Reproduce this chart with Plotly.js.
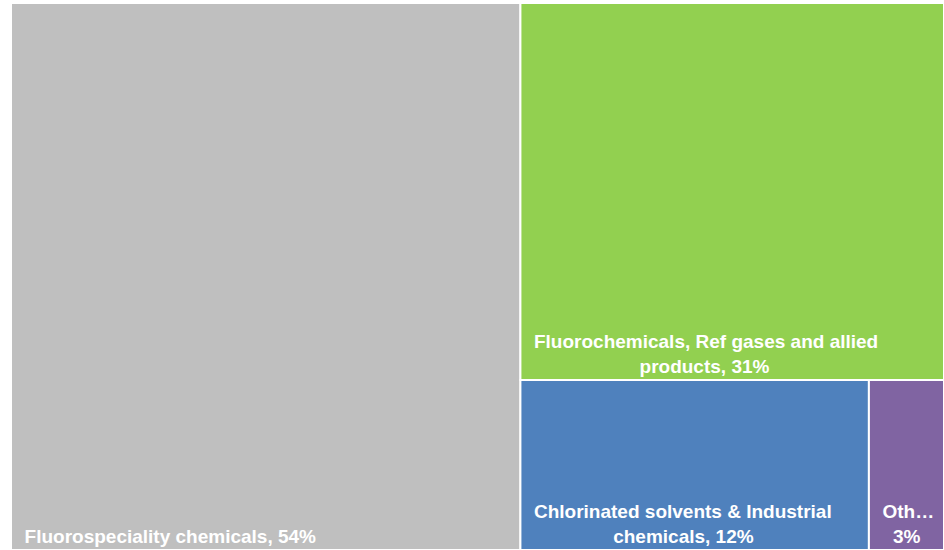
<!DOCTYPE html>
<html>
<head>
<meta charset="utf-8">
<script src="https://cdn.plot.ly/plotly-3.0.1.min.js"></script>
<style>html,body{margin:0;padding:0;background:#fff;}#chart{width:944px;height:550px;}</style>
</head>
<body>
<div id="chart"></div>
<script>
const categories = ["Fluorospeciality chemicals", "Fluorochemicals, Ref gases and allied products", "Chlorinated solvents & Industrial chemicals", "Others"];
const shares = [54.6, 31.3, 11.6, 2.5];
const displayLabels = ["Fluorospeciality chemicals, 54%", "Fluorochemicals, Ref gases and allied<br>products, 31%", "Chlorinated solvents & Industrial<br>chemicals, 12%", "Oth…<br>3%"];
const colors = ["#BFBFBF", "#92D050", "#4F81BD", "#8064A2"];

const FONT_SIZE = 19;
const FONT_FAMILY = "Liberation Sans, Arial, sans-serif";

// Centre multi-line labels line by line (Excel style) and add a small left indent
function centreLines(str) {
  const ctx = document.createElement("canvas").getContext("2d");
  ctx.font = "bold " + FONT_SIZE + "px " + FONT_FAMILY;
  const sp = ctx.measureText("\u00A0").width || FONT_SIZE * 0.278;
  const lines = str.split("<br>");
  const widths = lines.map(l => ctx.measureText(l).width);
  const maxW = Math.max(...widths);
  const indent = "\u00A0\u00A0";
  return lines.map((l, i) => indent + "\u00A0".repeat(Math.round((maxW - widths[i]) / 2 / sp)) + l).join("<br>");
}

const trace = {
  type: "treemap",
  labels: categories,
  parents: categories.map(() => ""),
  values: shares,
  text: displayLabels.map(centreLines),
  texttemplate: "%{text}",
  textposition: "bottom left",
  textfont: {family: FONT_FAMILY, size: FONT_SIZE, color: "#FFFFFF", weight: "bold"},
  marker: {colors: colors, line: {color: "#FFFFFF", width: 2}, pad: {t: 0, l: 0, r: 0, b: 0}},
  tiling: {packing: "squarify", squarifyratio: 1, pad: 0},
  pathbar: {visible: false},
  hoverinfo: "none",
  sort: true
};

const layout = {
  width: 944, height: 550,
  margin: {l: 11, r: 0, t: 3, b: 0},
  paper_bgcolor: "#FFFFFF",
  showlegend: false
};

Plotly.newPlot("chart", [trace], layout, {displayModeBar: false, staticPlot: true});
</script>
</body>
</html>
